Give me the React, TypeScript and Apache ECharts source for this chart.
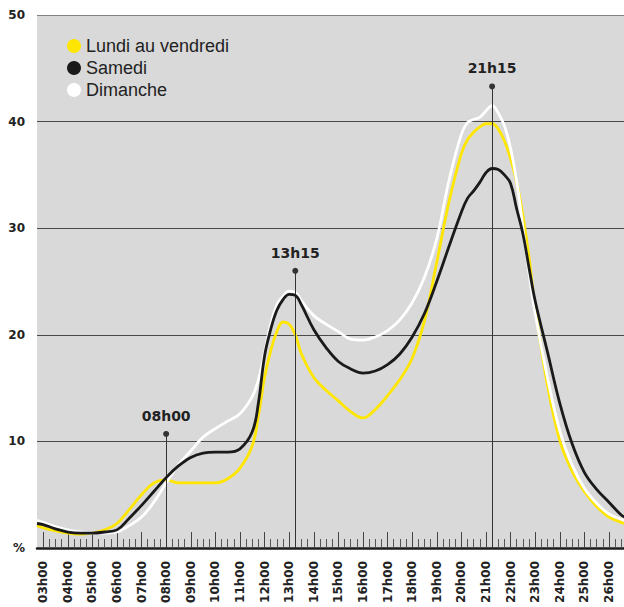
import React, { useEffect, useRef } from "react";
import * as echarts from "echarts";

// Time of day in hours (24+ = after midnight)
const hours = [
  2.75, 3, 3.5, 4, 4.5, 5, 5.5, 6, 6.5, 7, 7.5, 8, 8.5, 9, 9.5, 10, 10.5, 11, 11.5, 11.75,
  12, 12.25, 12.5, 12.75, 13, 13.25, 13.5, 14, 14.5, 15, 15.5, 16, 16.5, 17, 17.5, 18, 18.5,
  19, 19.5, 20, 20.25, 20.5, 20.75, 21, 21.25, 21.5, 21.75, 22, 22.25, 22.5, 22.75, 23, 23.5,
  24, 24.5, 25, 25.5, 26, 26.5, 26.75,
];

const weekday = [
  2.1, 1.9, 1.6, 1.4, 1.3, 1.4, 1.7, 2.3, 3.6, 5.0, 6.1, 6.4, 6.1, 6.1, 6.1, 6.1, 6.5, 7.5, 9.6, 12.4,
  16.0, 18.5, 20.3, 21.2, 21.0, 20.0, 18.2, 16.0, 14.8, 13.8, 12.8, 12.2, 13.0, 14.3, 15.8, 17.8, 21.3,
  26.8, 32.5, 37.0, 38.3, 39.0, 39.5, 39.8, 39.8, 39.3, 38.2, 36.5, 34.3, 31.2, 27.3, 22.5, 15.3,
  10.1, 7.2, 5.3, 3.9, 2.9, 2.4, 2.2,
];

const saturday = [
  2.3, 2.2, 1.8, 1.5, 1.4, 1.4, 1.5, 1.7, 2.8, 4.0, 5.3, 6.6, 7.7, 8.5, 8.9, 9.0, 9.0, 9.3, 10.9, 13.6,
  18.0, 20.5, 22.3, 23.3, 23.8, 23.7, 22.8, 20.5, 18.8, 17.5, 16.8, 16.4, 16.6, 17.2, 18.2, 19.8, 22.0,
  25.0, 28.3, 31.5, 32.8, 33.5, 34.3, 35.2, 35.6, 35.5, 35.0, 34.2, 31.8, 29.5, 26.3, 23.2, 18.4,
  13.6, 9.8, 7.1, 5.5, 4.3, 3.1, 2.8,
];

const sunday = [
  2.6, 2.4, 2.0, 1.7, 1.5, 1.4, 1.4, 1.5, 2.1, 2.9, 4.3, 6.1, 7.8, 9.1, 10.4, 11.2, 11.9, 12.6, 14.2, 15.8,
  18.3, 21.0, 22.8, 23.6, 24.1, 24.0, 23.2, 21.8, 21.0, 20.3, 19.6, 19.5, 19.8, 20.4, 21.4, 23.0, 25.4,
  29.0, 34.5, 38.8, 39.9, 40.2, 40.4, 41.0, 41.5, 40.8, 39.6, 37.5, 34.4, 30.1, 25.8, 22.0, 16.0,
  11.0, 7.8, 5.6, 4.2, 3.2, 2.7, 2.5,
];

const seriesNames = ["Lundi au vendredi", "Samedi", "Dimanche"];

const hourTicks = [3, 4, 5, 6, 7, 8, 9, 10, 11, 12, 13, 14, 15, 16, 17, 18, 19, 20, 21, 22, 23, 24, 25, 26];
const quarterOffsets = [0.25, 0.5, 0.75];

const markerTimes = [8, 13.25, 21.25];
const markerLabels = ["08h00", "13h15", "21h15"];
const markerHeights = [10.7, 26.0, 43.3];

const X_MIN = 2.75;
const X_MAX = 26.75;

function pairs(values: number[]) {
  return hours.map((h, i) => [h, values[i]]);
}

export default function App() {
  const ref = useRef<HTMLDivElement>(null);

  useEffect(() => {
    const chart = echarts.init(ref.current!, null, { renderer: "svg" });

    const quarterTicks: number[] = [];
    [2].concat(hourTicks).forEach((h) => {
      quarterOffsets.forEach((o) => {
        const v = h + o;
        if (v > X_MIN && v < X_MAX) quarterTicks.push(v);
      });
    });

    const fmtHour = (v: number) => (v < 10 ? "0" : "") + Math.round(v) + "h00";

    const markData = markerTimes.map((t, i) => [
      { name: markerLabels[i], coord: [t, 0] },
      { coord: [t, markerHeights[i]] },
    ]);

    const lineStyle = (color: string) => ({ color, width: 2.8 });

    chart.setOption({
      animation: false,
      backgroundColor: "#ffffff",
      grid: {
        left: 37,
        right: 630 - 37 - 590.4,
        top: 15,
        bottom: 59,
        show: true,
        backgroundColor: "#d9d9d9",
        borderWidth: 0,
      },
      legend: {
        data: seriesNames,
        orient: "vertical",
        left: 67,
        top: 37,
        padding: 0,
        icon: "circle",
        itemWidth: 14,
        itemHeight: 14,
        itemGap: 4,
        itemStyle: { borderWidth: 0 },
        textStyle: {
          fontFamily: "Liberation Sans, Arial, sans-serif",
          fontSize: 18,
          lineHeight: 18,
          color: "#222222",
        },
      },
      xAxis: [
        {
          type: "value",
          min: X_MIN,
          max: X_MAX,
          position: "bottom",
          axisLine: { show: true, onZero: false, lineStyle: { color: "#1e1e1e", width: 2.5 } },
          axisTick: {
            show: true,
            inside: true,
            length: 16,
            customValues: hourTicks,
            lineStyle: { color: "#444444", width: 1 },
          },
          axisLabel: {
            show: true,
            customValues: hourTicks,
            rotate: 90,
            margin: 13,
            formatter: (v: number) => fmtHour(v),
            fontFamily: "DejaVu Sans, sans-serif",
            fontWeight: "bold",
            fontSize: 12,
            color: "#222222",
          },
          splitLine: { show: false },
        },
        {
          type: "value",
          min: X_MIN,
          max: X_MAX,
          position: "bottom",
          axisLine: { show: false, onZero: false },
          axisTick: {
            show: true,
            inside: true,
            length: 9,
            customValues: quarterTicks,
            lineStyle: { color: "#555555", width: 1 },
          },
          axisLabel: { show: false },
          splitLine: { show: false },
        },
      ],
      yAxis: {
        type: "value",
        min: 0,
        max: 50,
        interval: 10,
        axisLine: { show: false },
        axisTick: { show: false },
        axisLabel: {
          formatter: (v: number) => (v === 0 ? "%" : String(v)),
          align: "right",
          margin: 12,
          fontFamily: "DejaVu Sans, sans-serif",
          fontWeight: "bold",
          fontSize: 12,
          color: "#222222",
        },
        splitLine: {
          show: true,
          lineStyle: {
            color: ["#333333", "#4a4a4a", "#4a4a4a", "#4a4a4a", "#4a4a4a", "#808080"],
            width: 1,
          },
        },
      },
      series: [
        {
          name: seriesNames[0],
          type: "line",
          data: pairs(weekday),
          smooth: 0.4,
          showSymbol: false,
          symbol: "none",
          color: "#ffe600",
          itemStyle: { color: "#ffe600" },
          lineStyle: lineStyle("#ffe600"),
          z: 3,
          markLine: {
            silent: true,
            symbol: ["none", "circle"],
            symbolSize: 6,
            itemStyle: { color: "#222222" },
            lineStyle: { color: "#333333", width: 1, type: "solid" },
            label: {
              show: true,
              position: "end",
              distance: 11,
              formatter: "{b}",
              fontFamily: "DejaVu Sans, sans-serif",
              fontWeight: "bold",
              fontSize: 14,
              color: "#222222",
            },
            data: markData,
          },
        },
        {
          name: seriesNames[2],
          type: "line",
          data: pairs(sunday),
          smooth: 0.4,
          showSymbol: false,
          symbol: "none",
          color: "#ffffff",
          itemStyle: { color: "#ffffff" },
          lineStyle: lineStyle("#ffffff"),
          z: 4,
        },
        {
          name: seriesNames[1],
          type: "line",
          data: pairs(saturday),
          smooth: 0.4,
          showSymbol: false,
          symbol: "none",
          color: "#1a1a1a",
          itemStyle: { color: "#1a1a1a" },
          lineStyle: lineStyle("#1a1a1a"),
          z: 5,
        },
      ],
    });

    return () => chart.dispose();
  }, []);

  return (
    <div
      style={{
        position: "fixed",
        left: 0,
        top: 0,
        width: 624,
        height: 607,
        overflow: "hidden",
        background: "#ffffff",
      }}
    >
      <div ref={ref} style={{ width: 630, height: 607 }} />
    </div>
  );
}
